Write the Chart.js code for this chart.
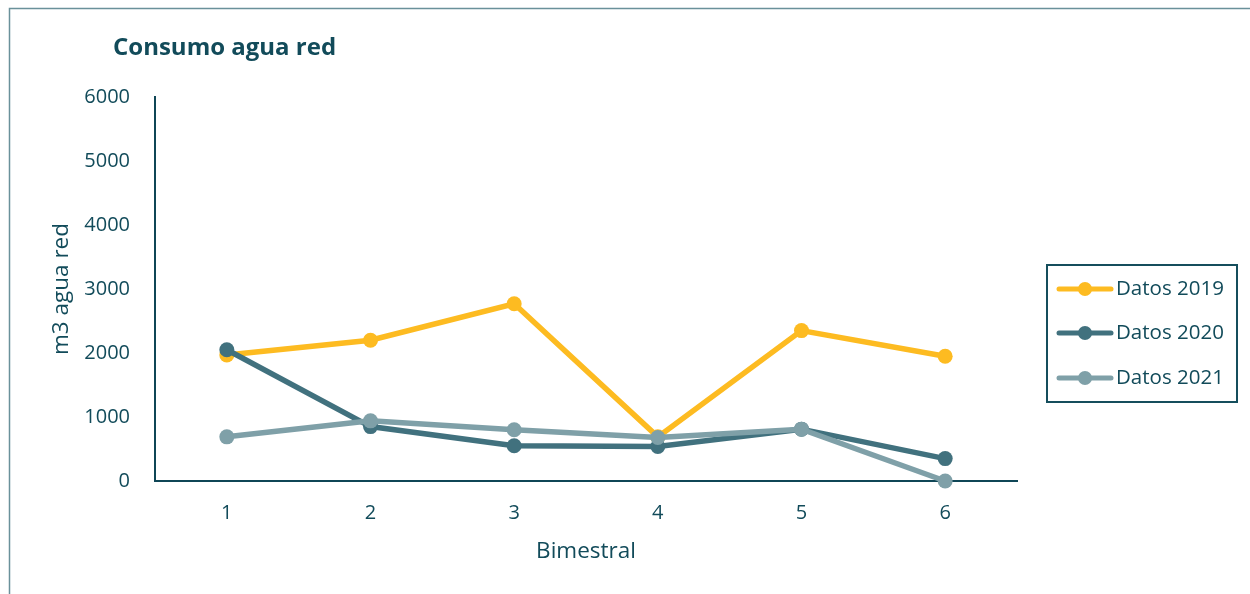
<!DOCTYPE html>
<html>
<head>
<meta charset="utf-8">
<script src="https://cdn.jsdelivr.net/npm/chart.js@4"></script>
<style>
  html, body { margin: 0; padding: 0; background: #ffffff; }
  #wrap { width: 1250px; height: 594px; position: relative; }
</style>
</head>
<body>
<div id="wrap"><canvas id="c" width="1250" height="594"></canvas></div>
<script>
const categories = ['1', '2', '3', '4', '5', '6'];
const datos2019 = [1970, 2200, 2770, 690, 2350, 1950];
const datos2020 = [2050, 850, 550, 540, 810, 350];
const datos2021 = [690, 940, 800, 680, 810, 0];
const seriesNames = ['Datos 2019', 'Datos 2020', 'Datos 2021'];
const yTicks = [0, 1000, 2000, 3000, 4000, 5000, 6000];
const chartTitle = 'Consumo agua red';
const xTitle = 'Bimestral';
const yTitle = 'm3 agua red';

const TEXT = '#124B5A';
const AXIS = '#0F4656';
const COLORS = ['#FDBB21', '#41717E', '#7FA0A8'];
const FONT = "'Open Sans', 'Noto Sans', sans-serif";

const decor = {
  id: 'decor',
  afterDraw(chart) {
    const ctx = chart.ctx;
    ctx.save();
    // outer frame
    ctx.strokeStyle = '#6A919A';
    ctx.lineWidth = 1.5;
    ctx.beginPath();
    ctx.moveTo(9.5, 600);
    ctx.lineTo(9.5, 8.5);
    ctx.lineTo(1260, 8.5);
    ctx.stroke();
    // title
    ctx.fillStyle = TEXT;
    ctx.font = "bold 24px " + FONT;
    ctx.textBaseline = 'middle';
    ctx.textAlign = 'left';
    ctx.fillText(chartTitle, 113, 48);
    // legend
    ctx.strokeStyle = '#154E5C';
    ctx.lineWidth = 2;
    ctx.strokeRect(1047, 265, 190, 137);
    const ys = [289, 333, 378];
    chart.data.datasets.forEach((ds, i) => {
      const y = ys[i];
      ctx.strokeStyle = ds.borderColor;
      ctx.lineWidth = 5;
      ctx.lineCap = 'round';
      ctx.beginPath();
      ctx.moveTo(1059, y);
      ctx.lineTo(1111, y);
      ctx.stroke();
      ctx.fillStyle = ds.pointBackgroundColor;
      ctx.beginPath();
      ctx.arc(1085, y, 7, 0, Math.PI * 2);
      ctx.fill();
      ctx.fillStyle = TEXT;
      ctx.font = "20.5px " + FONT;
      ctx.textAlign = 'left';
      ctx.textBaseline = 'middle';
      ctx.fillText(ds.label, 1116, y);
    });
    ctx.restore();
  }
};

const dataArrays = [datos2019, datos2020, datos2021];
const orders = [2, 1, 0];

new Chart(document.getElementById('c'), {
  type: 'line',
  data: {
    labels: categories,
    datasets: dataArrays.map((d, i) => ({
      label: seriesNames[i],
      data: d,
      borderColor: COLORS[i],
      backgroundColor: COLORS[i],
      pointBackgroundColor: COLORS[i],
      pointBorderColor: COLORS[i],
      borderWidth: 5.5,
      pointRadius: 7.5,
      pointHoverRadius: 7.5,
      pointBorderWidth: 0,
      tension: 0,
      order: orders[i],
      clip: false
    }))
  },
  options: {
    responsive: false,
    animation: false,
    events: [],
    layout: { padding: { top: 97, right: 233, left: 0, bottom: 0 } },
    plugins: {
      legend: { display: false },
      title: { display: false },
      tooltip: { enabled: false }
    },
    scales: {
      x: {
        offset: true,
        grid: { display: false, drawTicks: false },
        border: { display: true, color: AXIS, width: 2 },
        ticks: { color: TEXT, font: { family: FONT, size: 20 }, padding: 20 },
        title: { display: true, text: xTitle, color: TEXT, font: { family: FONT, size: 22.5 }, padding: { top: 0, bottom: 29 } },
        afterFit(scale) { scale.height = 113; }
      },
      y: {
        min: 0,
        max: 6000,
        grid: { display: false, drawTicks: false },
        border: { display: true, color: AXIS, width: 2 },
        afterBuildTicks(scale) { scale.ticks = yTicks.map(v => ({ value: v })); },
        ticks: { color: TEXT, font: { family: FONT, size: 20 }, padding: 25, callback: (v) => String(v) },
        title: { display: true, text: yTitle, color: TEXT, font: { family: FONT, size: 22.5 }, padding: { top: 48, bottom: 0 } },
        afterFit(scale) { scale.width = 155; }
      }
    }
  },
  plugins: [decor]
});
</script>
</body>
</html>
